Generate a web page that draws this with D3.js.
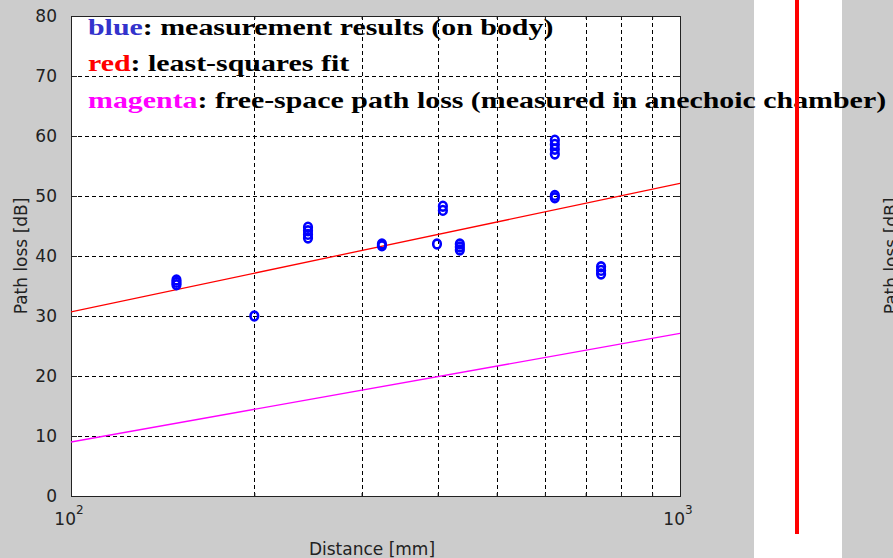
<!DOCTYPE html>
<html>
<head>
<meta charset="utf-8">
<script src="https://cdn.jsdelivr.net/npm/d3@7"></script>
<style>
  body { margin: 0; background: #cccccc; }
  svg { display: block; }
</style>
</head>
<body>
<div id="chart"></div>
<script>
// measured path loss vs distance, log x axis
var distances = [149, 200, 245, 324, 399, 408, 435, 623, 742];
var lossValues = [
  [35.2, 35.6, 36.0],
  [30.0],
  [43.0, 43.6, 44.2, 44.8],
  [41.7, 42.0],
  [42.0],
  [47.6, 48.3],
  [41.0, 41.5, 42.0],
  [49.7, 50.1, 57.0, 57.8, 58.6, 59.3],
  [37.0, 37.6, 38.2]
];
// least-squares fit and free-space loss (straight on a log axis)
var fitX = [100, 1000];
var fitY = [30.7, 52.1];
var freeX = [100, 1000];
var freeY = [9.0, 27.1];

var yTicks = [0, 10, 20, 30, 40, 50, 60, 70, 80];
var xMajor = [100, 1000];
var xMinor = [200, 300, 400, 500, 600, 700, 800, 900];

var legendLines = [
  { key: "blue", color: "#3333cc", rest: ": measurement results (on body)" },
  { key: "red", color: "#ff0000", rest: ": least-squares fit" },
  { key: "magenta", color: "#ff00ff", rest: ": free-space path loss (measured in anechoic chamber)" }
];

var W = 893, H = 558;
var mLeft = 71, mRight = 680, mTop = 16, mBottom = 496;

var svg = d3.select("#chart").append("svg").attr("width", W).attr("height", H);
svg.append("rect").attr("width", W).attr("height", H).attr("fill", "#cccccc");

var x = d3.scaleLog().domain([100, 1000]).range([mLeft, mRight]);
var y = d3.scaleLinear().domain([0, 80]).range([mBottom, mTop]);

svg.append("rect")
  .attr("x", mLeft).attr("y", mTop)
  .attr("width", mRight - mLeft).attr("height", mBottom - mTop)
  .attr("fill", "#ffffff");

svg.append("clipPath").attr("id", "clip").append("rect")
  .attr("x", mLeft).attr("y", mTop)
  .attr("width", mRight - mLeft).attr("height", mBottom - mTop);

// grid
var grid = svg.append("g").attr("stroke", "#000").attr("stroke-width", 1)
  .attr("stroke-dasharray", "4,3").attr("shape-rendering", "crispEdges");
grid.selectAll(".gy").data(yTicks.slice(1, -1)).enter().append("line")
  .attr("x1", mLeft).attr("x2", mRight)
  .attr("y1", function (d) { return Math.round(y(d)) + 0.5; })
  .attr("y2", function (d) { return Math.round(y(d)) + 0.5; });
grid.selectAll(".gx").data(xMinor).enter().append("line")
  .attr("y1", mTop).attr("y2", mBottom)
  .attr("x1", function (d) { return Math.round(x(d)) + 0.5; })
  .attr("x2", function (d) { return Math.round(x(d)) + 0.5; });

// axes
var axisFont = "'DejaVu Sans', sans-serif";
var yl = d3.axisLeft(y).tickValues(yTicks).tickSize(-6).tickPadding(14);
var yr = d3.axisRight(y).tickValues(yTicks).tickSize(-6).tickFormat("");
var xb = d3.axisBottom(x).tickValues(xMajor).tickSize(-6).tickFormat("");
var xt = d3.axisTop(x).tickValues(xMajor).tickSize(-6).tickFormat("");
var xbMinor = d3.axisBottom(x).tickValues(xMinor).tickSize(-3).tickFormat("");
var xtMinor = d3.axisTop(x).tickValues(xMinor).tickSize(-3).tickFormat("");

function styleAxis(g) {
  g.selectAll("path, line").attr("stroke", "#222");
  g.selectAll("text").attr("font-family", axisFont).attr("font-size", 17).attr("fill", "#222");
}
svg.append("g").attr("transform", "translate(" + mLeft + ",0)").call(yl).call(styleAxis);
svg.append("g").attr("transform", "translate(" + mRight + ",0)").call(yr).call(styleAxis);
svg.append("g").attr("transform", "translate(0," + mBottom + ")").call(xb).call(styleAxis);
svg.append("g").attr("transform", "translate(0," + mTop + ")").call(xt).call(styleAxis);
svg.append("g").attr("transform", "translate(0," + mBottom + ")").call(xbMinor).call(styleAxis);
svg.append("g").attr("transform", "translate(0," + mTop + ")").call(xtMinor).call(styleAxis);

// x tick labels as 10^n
var xl = svg.append("g").selectAll("text").data(xMajor).enter().append("text")
  .attr("x", function (d) { return x(d) - 2; })
  .attr("y", 525)
  .attr("text-anchor", "middle")
  .attr("font-family", axisFont).attr("font-size", 17).attr("fill", "#222");
xl.append("tspan").text("10");
xl.append("tspan").attr("dy", -11).attr("font-size", 12)
  .text(function (d) { return Math.round(Math.log10(d)); });

svg.append("text")
  .attr("x", 372).attr("y", 555)
  .attr("text-anchor", "middle")
  .attr("font-family", axisFont).attr("font-size", 17).attr("fill", "#222")
  .text("Distance [mm]");

svg.append("text")
  .attr("transform", "translate(27,256) rotate(-90)")
  .attr("text-anchor", "middle")
  .attr("font-family", axisFont).attr("font-size", 17).attr("fill", "#222")
  .text("Path loss [dB]");

// lines
var line = d3.line().x(function (d) { return x(d[0]); }).y(function (d) { return y(d[1]); });
var plot = svg.append("g").attr("clip-path", "url(#clip)");
plot.append("path").datum(d3.zip(freeX, freeY))
  .attr("d", line).attr("fill", "none").attr("stroke", "#ff00ff").attr("stroke-width", 1.3);
plot.append("path").datum(d3.zip(fitX, fitY))
  .attr("d", line).attr("fill", "none").attr("stroke", "#ff0000").attr("stroke-width", 1.3);

// measurement points
var pts = [];
distances.forEach(function (d, i) {
  lossValues[i].forEach(function (v) { pts.push([d, v]); });
});
plot.selectAll("ellipse").data(pts).enter().append("ellipse")
  .attr("cx", function (d) { return x(d[0]); })
  .attr("cy", function (d) { return y(d[1]); })
  .attr("rx", 3.8)
  .attr("ry", 4.4)
  .attr("fill", "none")
  .attr("stroke", "#0000ff")
  .attr("stroke-width", 2.6);

// white side panel from the slide
svg.append("rect").attr("x", 754).attr("y", 0).attr("width", 88).attr("height", H).attr("fill", "#ffffff");

// legend text (slide text box is stretched horizontally)
var lg = svg.append("g")
  .attr("transform", "translate(88,0) scale(1.3,1)")
  .attr("font-family", "'Liberation Serif', 'Times New Roman', serif")
  .attr("font-weight", "bold").attr("font-size", 23);
legendLines.forEach(function (l, i) {
  var t = lg.append("text").attr("x", 0).attr("y", 35 + i * 36.5);
  t.append("tspan").attr("fill", l.color).text(l.key);
  t.append("tspan").attr("fill", "#000").text(l.rest);
});

// red bar
svg.append("rect").attr("x", 795).attr("y", 0).attr("width", 4).attr("height", 534).attr("fill", "#ff0000");

// clipped label of the neighbouring plot
svg.append("text")
  .attr("transform", "translate(897,256) rotate(-90)")
  .attr("text-anchor", "middle")
  .attr("font-family", axisFont).attr("font-size", 17).attr("fill", "#222")
  .text("Path loss [dB]");
</script>
</body>
</html>
